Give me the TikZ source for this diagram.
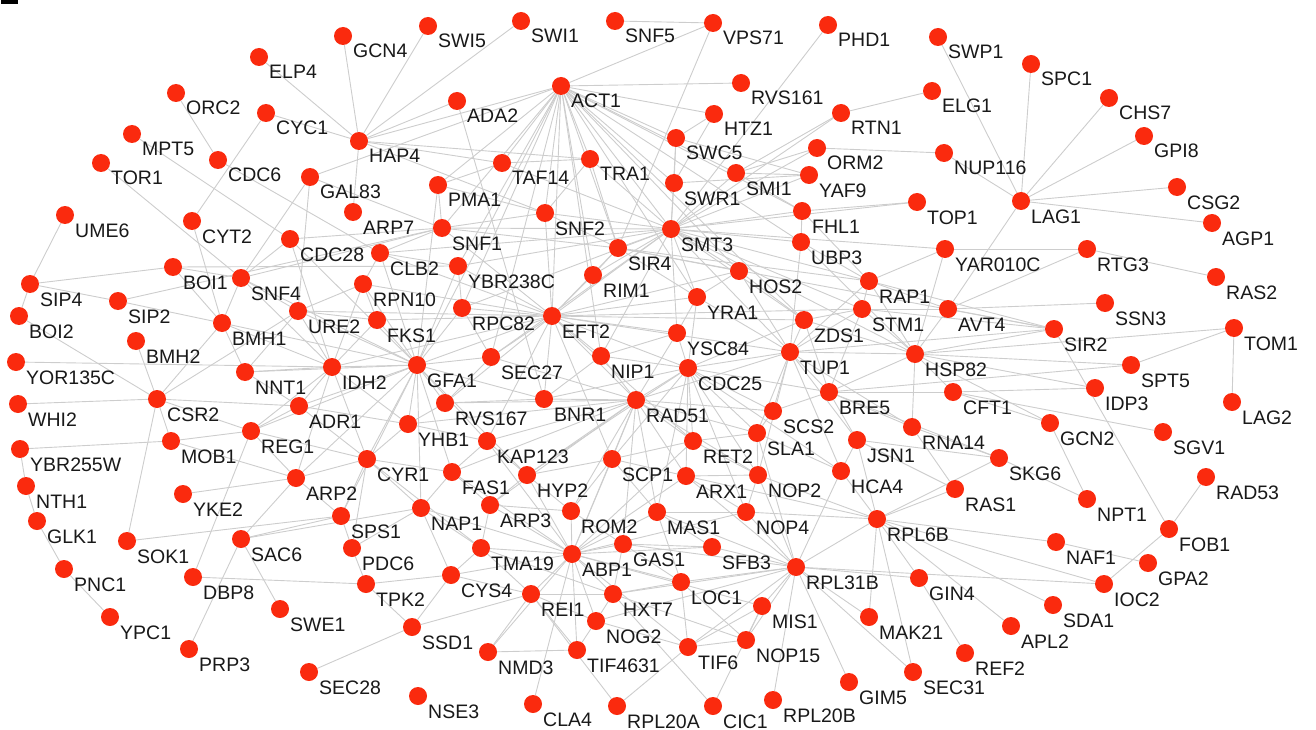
\documentclass[tikz,border=0pt]{standalone}
\usepackage{fontspec}
\setmainfont{Liberation Sans}
\definecolor{dotred}{RGB}{250,42,14}
\definecolor{edgegray}{RGB}{205,205,205}
\definecolor{labtext}{RGB}{25,25,25}
\pgfdeclarelayer{bg}
\pgfsetlayers{bg,main}
\tikzset{
  gdot/.style={circle,fill=dotred,draw=none,inner sep=0pt,minimum size=18pt},
  glab/.style={font=\fontsize{19.5}{22}\selectfont,text=labtext,inner sep=0pt,anchor=base west},
  gedge/.style={draw=edgegray,line width=0.9pt}
}
\newcommand\protnode[3]{\node[gdot] (#1) at (#2,#3) {};\node[glab] (#1-l) at ([shift={(10pt,-22pt)}]#1.center) {#1};}
\begin{document}
\begin{tikzpicture}[x=1pt,y=-1pt]
\useasboundingbox (0,0) rectangle (1316,730);
\fill[black] (1,0) rectangle (18,4);
\protnode{GCN4}{343}{36}
\protnode{SWI5}{428}{26}
\protnode{SWI1}{521}{21}
\protnode{SNF5}{615}{21}
\protnode{VPS71}{713}{23}
\protnode{PHD1}{828}{25}
\protnode{SWP1}{938}{37}
\protnode{ELP4}{259}{57}
\protnode{SPC1}{1031}{64}
\protnode{ACT1}{561}{86}
\protnode{RVS161}{741}{83}
\protnode{ORC2}{176}{93}
\protnode{ELG1}{932}{91}
\protnode{CHS7}{1109}{98}
\protnode{ADA2}{457}{101}
\protnode{CYC1}{266}{113}
\protnode{HTZ1}{714}{114}
\protnode{RTN1}{841}{113}
\protnode{MPT5}{132}{134}
\protnode{GPI8}{1144}{136}
\protnode{SWC5}{676}{138}
\protnode{HAP4}{359}{141}
\protnode{ORM2}{817}{148}
\protnode{NUP116}{944}{153}
\protnode{TRA1}{590}{159}
\protnode{CDC6}{218}{160}
\protnode{TOR1}{101}{163}
\protnode{TAF14}{502}{163}
\protnode{SMI1}{736}{173}
\protnode{YAF9}{809}{175}
\protnode{GAL83}{310}{177}
\protnode{SWR1}{674}{183}
\protnode{PMA1}{438}{185}
\protnode{CSG2}{1177}{187}
\protnode{LAG1}{1021}{201}
\protnode{TOP1}{917}{202}
\protnode{FHL1}{802}{211}
\protnode{ARP7}{353}{212}
\protnode{SNF2}{545}{213}
\protnode{UME6}{65}{215}
\protnode{CYT2}{192}{221}
\protnode{AGP1}{1212}{223}
\protnode{SNF1}{442}{228}
\protnode{SMT3}{671}{229}
\protnode{CDC28}{290}{239}
\protnode{UBP3}{801}{242}
\protnode{SIR4}{618}{248}
\protnode{YAR010C}{945}{249}
\protnode{RTG3}{1087}{249}
\protnode{CLB2}{380}{253}
\protnode{YBR238C}{458}{266}
\protnode{BOI1}{173}{267}
\protnode{HOS2}{739}{271}
\protnode{RIM1}{593}{275}
\protnode{RAS2}{1216}{277}
\protnode{SNF4}{241}{278}
\protnode{RAP1}{869}{281}
\protnode{SIP4}{30}{284}
\protnode{RPN10}{363}{284}
\protnode{YRA1}{697}{297}
\protnode{SIP2}{118}{301}
\protnode{SSN3}{1105}{303}
\protnode{RPC82}{462}{308}
\protnode{STM1}{862}{309}
\protnode{AVT4}{948}{309}
\protnode{URE2}{298}{311}
\protnode{EFT2}{552}{316}
\protnode{BOI2}{19}{316}
\protnode{FKS1}{377}{320}
\protnode{ZDS1}{804}{320}
\protnode{BMH1}{222}{323}
\protnode{TOM1}{1234}{328}
\protnode{SIR2}{1054}{329}
\protnode{YSC84}{677}{333}
\protnode{BMH2}{136}{341}
\protnode{TUP1}{790}{352}
\protnode{HSP82}{915}{354}
\protnode{NIP1}{601}{356}
\protnode{SEC27}{491}{357}
\protnode{YOR135C}{16}{362}
\protnode{SPT5}{1131}{365}
\protnode{GFA1}{417}{365}
\protnode{IDH2}{332}{367}
\protnode{CDC25}{688}{368}
\protnode{NNT1}{245}{372}
\protnode{IDP3}{1095}{388}
\protnode{BRE5}{829}{392}
\protnode{CFT1}{953}{392}
\protnode{BNR1}{544}{399}
\protnode{CSR2}{157}{399}
\protnode{RAD51}{636}{400}
\protnode{LAG2}{1232}{402}
\protnode{RVS167}{445}{403}
\protnode{WHI2}{18}{404}
\protnode{ADR1}{299}{406}
\protnode{SCS2}{773}{411}
\protnode{GCN2}{1050}{423}
\protnode{YHB1}{408}{424}
\protnode{RNA14}{912}{427}
\protnode{REG1}{251}{431}
\protnode{SGV1}{1163}{432}
\protnode{SLA1}{757}{433}
\protnode{JSN1}{857}{440}
\protnode{RET2}{693}{441}
\protnode{KAP123}{487}{441}
\protnode{MOB1}{171}{441}
\protnode{YBR255W}{20}{449}
\protnode{SKG6}{999}{458}
\protnode{CYR1}{367}{459}
\protnode{SCP1}{612}{459}
\protnode{HCA4}{841}{471}
\protnode{FAS1}{452}{472}
\protnode{NOP2}{758}{475}
\protnode{HYP2}{527}{475}
\protnode{ARX1}{686}{476}
\protnode{ARP2}{296}{478}
\protnode{RAD53}{1206}{477}
\protnode{NTH1}{26}{486}
\protnode{RAS1}{955}{489}
\protnode{YKE2}{183}{494}
\protnode{NPT1}{1087}{499}
\protnode{ARP3}{490}{505}
\protnode{NAP1}{421}{508}
\protnode{ROM2}{571}{511}
\protnode{MAS1}{657}{512}
\protnode{NOP4}{746}{512}
\protnode{SPS1}{341}{516}
\protnode{RPL6B}{877}{519}
\protnode{GLK1}{37}{521}
\protnode{FOB1}{1169}{529}
\protnode{SAC6}{241}{539}
\protnode{SOK1}{127}{541}
\protnode{NAF1}{1056}{542}
\protnode{GAS1}{623}{544}
\protnode{SFB3}{712}{547}
\protnode{PDC6}{352}{548}
\protnode{TMA19}{481}{548}
\protnode{ABP1}{572}{554}
\protnode{GPA2}{1148}{563}
\protnode{RPL31B}{796}{567}
\protnode{PNC1}{64}{569}
\protnode{CYS4}{451}{575}
\protnode{DBP8}{193}{577}
\protnode{GIN4}{919}{578}
\protnode{LOC1}{681}{582}
\protnode{TPK2}{366}{584}
\protnode{IOC2}{1104}{584}
\protnode{REI1}{531}{594}
\protnode{HXT7}{613}{594}
\protnode{SDA1}{1053}{605}
\protnode{MIS1}{762}{606}
\protnode{SWE1}{280}{609}
\protnode{YPC1}{110}{617}
\protnode{MAK21}{869}{617}
\protnode{NOG2}{596}{621}
\protnode{APL2}{1011}{626}
\protnode{SSD1}{412}{627}
\protnode{NOP15}{746}{640}
\protnode{TIF6}{688}{647}
\protnode{TIF4631}{577}{650}
\protnode{PRP3}{189}{649}
\protnode{NMD3}{488}{652}
\protnode{REF2}{965}{653}
\protnode{SEC28}{309}{672}
\protnode{SEC31}{913}{672}
\protnode{GIM5}{849}{682}
\protnode{NSE3}{418}{696}
\protnode{RPL20B}{773}{700}
\protnode{CLA4}{533}{704}
\protnode{RPL20A}{617}{706}
\protnode{CIC1}{713}{706}
\begin{pgfonlayer}{bg}
\foreach \a/\b in {GCN4/HAP4, SWI5/HAP4, SWI1/HAP4, ELP4/HAP4, CYC1/HAP4, HAP4/ADA2, HAP4/ACT1, HAP4/TRA1, HAP4/TAF14, HAP4/SNF2, HAP4/ARP7, GAL83/ACT1, SNF5/VPS71, ACT1/VPS71, ACT1/RVS161, ACT1/HTZ1, ACT1/SWC5, PHD1/SMT3, SWP1/LAG1, SPC1/LAG1, CHS7/LAG1, GPI8/LAG1, CSG2/LAG1, AGP1/LAG1, NUP116/LAG1, LAG1/AVT4, ELG1/RTN1, SWC5/YAF9, RTN1/SMI1, ORM2/SMI1, NUP116/ORM2, TOP1/FHL1, TOP1/SMT3, VPS71/SIR4, ORC2/CDC6, CYC1/CYT2, MPT5/CDC28, TOR1/SNF4, CDC6/CLB2, GAL83/SNF4, GAL83/URE2, UME6/SIP4, CYT2/BMH1, ADA2/BNR1, RTG3/YAR010C, RTG3/AVT4, RTG3/RAS2, SSN3/AVT4, AVT4/SIR2, SIR2/STM1, SIR2/HSP82, TOM1/HSP82, TOM1/SPT5, TOM1/LAG2, SPT5/BRE5, IDP3/CFT1, SIR2/FOB1, CFT1/SGV1, CFT1/GCN2, GCN2/NPT1, SKG6/NPT1, SKG6/JSN1, RAD53/FOB1, NAF1/RPL6B, NAF1/GPA2, FOB1/IOC2, IOC2/RPL31B, SDA1/RPL6B, APL2/RPL6B, REF2/GIN4, GIN4/RPL31B, SEC31/RPL31B, GIM5/RPL31B, RPL20B/RPL31B, CIC1/MIS1, CIC1/HXT7, TIF6/RPL31B, TIF6/MIS1, NOP15/RPL31B, NOP15/LOC1, MIS1/RPL31B, SFB3/RPL31B, NOP4/RPL31B, MAS1/RPL31B, HCA4/RPL31B, RPL6B/HCA4, RPL6B/MAK21, RPL6B/RAS1, RPL6B/RPL31B, MAK21/RPL31B, NTH1/GLK1, GLK1/PNC1, PNC1/YPC1, NTH1/YBR255W, YKE2/ARP2, SOK1/CSR2, SOK1/SPS1, SAC6/ARP2, SAC6/SPS1, SAC6/NAP1, DBP8/REG1, PRP3/SAC6, DBP8/TPK2, SWE1/SAC6, SEC28/SSD1, CLA4/ABP1, RPL20A/REI1, RPL20A/TIF6, NMD3/REI1, NMD3/TIF4631, TIF4631/REI1, SSD1/CYS4, SSD1/TPK2, SSD1/REI1, CYS4/TMA19, CYS4/TPK2, CYS4/NAP1, SIP4/BOI1, SIP4/SIP2, BOI2/SIP4, BOI1/YBR238C, BOI1/BMH1, SNF4/BMH1, SNF4/CDC28, SIP2/BMH1, BMH2/CSR2, BOI2/CSR2, YOR135C/IDH2, WHI2/CSR2, YBR255W/MOB1, CSR2/BMH1, CSR2/ADR1, CSR2/REG1, CSR2/MOB1, CSR2/URE2, NNT1/BMH1, PMA1/GFA1, PMA1/SNF2}
  \draw[gedge] (\a) -- (\b);
\foreach \a/\b in {ACT1/TAF14, ACT1/TRA1, ACT1/SNF2, ACT1/SNF1, ACT1/YBR238C, ACT1/RPC82, ACT1/PMA1, ACT1/SIR4, ACT1/SMT3, ACT1/SWR1, ACT1/EFT2, ACT1/RIM1, ACT1/HOS2, ACT1/YRA1, ACT1/SEC27, ACT1/UBP3, ACT1/FHL1, ACT1/ZDS1, ACT1/SMI1, ACT1/NIP1, ACT1/GFA1, SMT3/SWR1, SMT3/SMI1, SMT3/YAF9, SMT3/ORM2, SMT3/FHL1, SMT3/UBP3, SMT3/SIR4, SMT3/HOS2, SMT3/RAP1, SMT3/STM1, SMT3/ZDS1, SMT3/YRA1, SMT3/RIM1, SMT3/EFT2, SMT3/RPC82, SMT3/CLB2, SMT3/SNF1, SMT3/SNF2, SMT3/TRA1, SMT3/TAF14, SMT3/SWC5, SMT3/YSC84, SMT3/NIP1, SMT3/YAR010C, SMT3/TUP1, SMT3/HSP82, SMT3/RTN1, SMT3/SEC27, SMT3/YBR238C, SIR4/EFT2, SIR4/RIM1, SIR4/SNF1, SIR4/SNF2, SIR4/TRA1, SIR4/YRA1, SIR4/HOS2, SIR4/SIR2, SIR4/RAP1}
  \draw[gedge] (\a) -- (\b);
\foreach \a/\b in {EFT2/RPC82, EFT2/RIM1, EFT2/GFA1, EFT2/SEC27, EFT2/NIP1, EFT2/BNR1, EFT2/RAD51, EFT2/YBR238C, EFT2/FKS1, EFT2/RPN10, EFT2/IDH2, EFT2/URE2, EFT2/CDC25, EFT2/YSC84, EFT2/YRA1, EFT2/SCP1, EFT2/KAP123, EFT2/RVS167, EFT2/HOS2, EFT2/ZDS1, EFT2/SNF2, EFT2/SNF1, EFT2/CLB2, EFT2/TUP1, EFT2/STM1, EFT2/RET2, GFA1/IDH2, GFA1/FKS1, GFA1/RVS167, GFA1/YHB1, GFA1/CYR1, GFA1/ADR1, GFA1/NNT1, GFA1/URE2, GFA1/RPN10, GFA1/SEC27, GFA1/KAP123, GFA1/FAS1, GFA1/NAP1, GFA1/REG1, GFA1/ARP2, GFA1/SPS1, GFA1/BMH1, GFA1/CLB2, GFA1/YBR238C, GFA1/BNR1, GFA1/HYP2, GFA1/RPC82, GFA1/SNF4, GFA1/CDC28, IDH2/URE2, IDH2/FKS1, IDH2/NNT1, IDH2/ADR1, IDH2/CYR1, IDH2/YHB1, IDH2/REG1, IDH2/BMH1, IDH2/SNF4, IDH2/CDC28, IDH2/RPN10, IDH2/ARP2}
  \draw[gedge] (\a) -- (\b);
\foreach \a/\b in {RAD51/CDC25, RAD51/NIP1, RAD51/BNR1, RAD51/SCP1, RAD51/RET2, RAD51/KAP123, RAD51/HYP2, RAD51/ARP3, RAD51/SEC27, RAD51/ROM2, RAD51/ABP1, RAD51/MAS1, RAD51/GAS1, RAD51/ARX1, RAD51/TUP1, RAD51/YSC84, RAD51/SCS2, RAD51/SLA1, RAD51/NOP2, RAD51/FAS1, RAD51/YHB1, RAD51/RVS167, CDC25/YSC84, CDC25/TUP1, CDC25/SCS2, CDC25/SLA1, CDC25/RET2, CDC25/ARX1, CDC25/NOP2, CDC25/BNR1, CDC25/NIP1, CDC25/HYP2, CDC25/SCP1, CDC25/MAS1, CDC25/ZDS1, CDC25/YRA1, CDC25/BRE5, CDC25/NOP4, CDC25/HCA4, TUP1/ZDS1, TUP1/STM1, TUP1/BRE5, TUP1/HSP82, TUP1/SCS2, TUP1/SLA1, TUP1/YRA1, TUP1/HOS2, TUP1/RAP1, TUP1/JSN1, TUP1/RNA14, TUP1/UBP3, TUP1/HCA4, TUP1/NOP2}
  \draw[gedge] (\a) -- (\b);
\foreach \a/\b in {ABP1/TMA19, ABP1/ROM2, ABP1/GAS1, ABP1/HXT7, ABP1/REI1, ABP1/ARP3, ABP1/HYP2, ABP1/MAS1, ABP1/SCP1, ABP1/NOP4, ABP1/SFB3, ABP1/LOC1, ABP1/NOG2, ABP1/KAP123, ABP1/FAS1, ABP1/CYS4, ABP1/NAP1, ABP1/RET2, ABP1/ARX1, ABP1/TIF4631, ABP1/NMD3, ABP1/TIF6, ABP1/MIS1, HSP82/STM1, HSP82/ZDS1, HSP82/RAP1, HSP82/BRE5, HSP82/CFT1, HSP82/SPT5, HSP82/RNA14, HSP82/IDP3, HSP82/AVT4, HSP82/YAR010C, HSP82/UBP3, HSP82/GCN2, BRE5/SCS2, BRE5/JSN1, BRE5/RNA14, BRE5/ZDS1, BRE5/STM1, BRE5/SKG6, BRE5/CFT1, RPL6B/JSN1, RPL6B/GIN4, RPL6B/SEC31, RPL6B/NOP4, RPL6B/ARX1, RPL6B/NOP2, RPL6B/SKG6, RPL6B/IOC2, RPL31B/LOC1, RPL31B/GAS1, RPL31B/ARX1, RPL31B/NOP2, RPL31B/HXT7, RPL31B/NOG2, RPL31B/SLA1}
  \draw[gedge] (\a) -- (\b);
\foreach \a/\b in {KAP123/YHB1, KAP123/FAS1, KAP123/HYP2, SCP1/HYP2, SCP1/ROM2, SCP1/MAS1, SCP1/ARX1, SCP1/RET2, HYP2/ROM2, HYP2/ARP3, FAS1/ARP3, FAS1/NAP1, CYR1/ARP2, CYR1/SPS1, CYR1/NAP1, CYR1/FAS1, CYR1/YHB1, CYR1/REG1, CYR1/ADR1, CYR1/PDC6, CYR1/TMA19, YHB1/ADR1, YHB1/RVS167, NAP1/TMA19, NAP1/PDC6, ARP3/TMA19, ARP3/ROM2, TMA19/REI1, TMA19/HXT7, ROM2/GAS1, GAS1/HXT7, GAS1/LOC1, GAS1/SFB3, MAS1/NOP4, MAS1/SFB3, MAS1/LOC1, NOP2/NOP4, ARX1/NOP4, ARX1/NOP2, RET2/SLA1, RET2/NOP2, SLA1/SCS2, SLA1/HCA4, SLA1/NOP2, JSN1/HCA4, RNA14/RAS1, REI1/HXT7, REI1/NOG2, HXT7/NOG2, HXT7/LOC1, HXT7/NOP15, NOG2/TIF6, NOG2/TIF4631, LOC1/TIF6, MIS1/NOP15, TIF6/NOP15, REI1/CYS4, PDC6/TPK2, PDC6/SPS1, SPS1/ARP2, ARP2/REG1, ARP2/MOB1, REG1/ADR1, REG1/MOB1, NNT1/ADR1, NNT1/URE2, URE2/FKS1, URE2/RPN10, URE2/SNF4, FKS1/RPN10, RPN10/CLB2, CLB2/YBR238C, CLB2/SNF1, SNF1/SNF4, SNF1/GAL83, SNF1/CDC28, YBR238C/RPC82, RPC82/SEC27, SEC27/RVS167, RVS167/BNR1, BNR1/NIP1, NIP1/YSC84, YSC84/YRA1, YRA1/HOS2, HOS2/ZDS1, ZDS1/STM1, STM1/RAP1, RAP1/UBP3, UBP3/FHL1, FHL1/RAP1, FHL1/SMI1, SMI1/YAF9, SWR1/SWC5, SWR1/YAF9, SWC5/HTZ1, HTZ1/SWR1, TAF14/TRA1, TRA1/SNF2, SNF2/SNF1, TAF14/PMA1, SNF1/PMA1, RAP1/YAR010C, RAP1/AVT4, STM1/AVT4, SIR2/TUP1, SIR2/RAP1, RNA14/SKG6, JSN1/RAS1, BOI1/SNF4, SIP2/SNF1}
  \draw[gedge] (\a) -- (\b);
\end{pgfonlayer}
\end{tikzpicture}
\end{document}
